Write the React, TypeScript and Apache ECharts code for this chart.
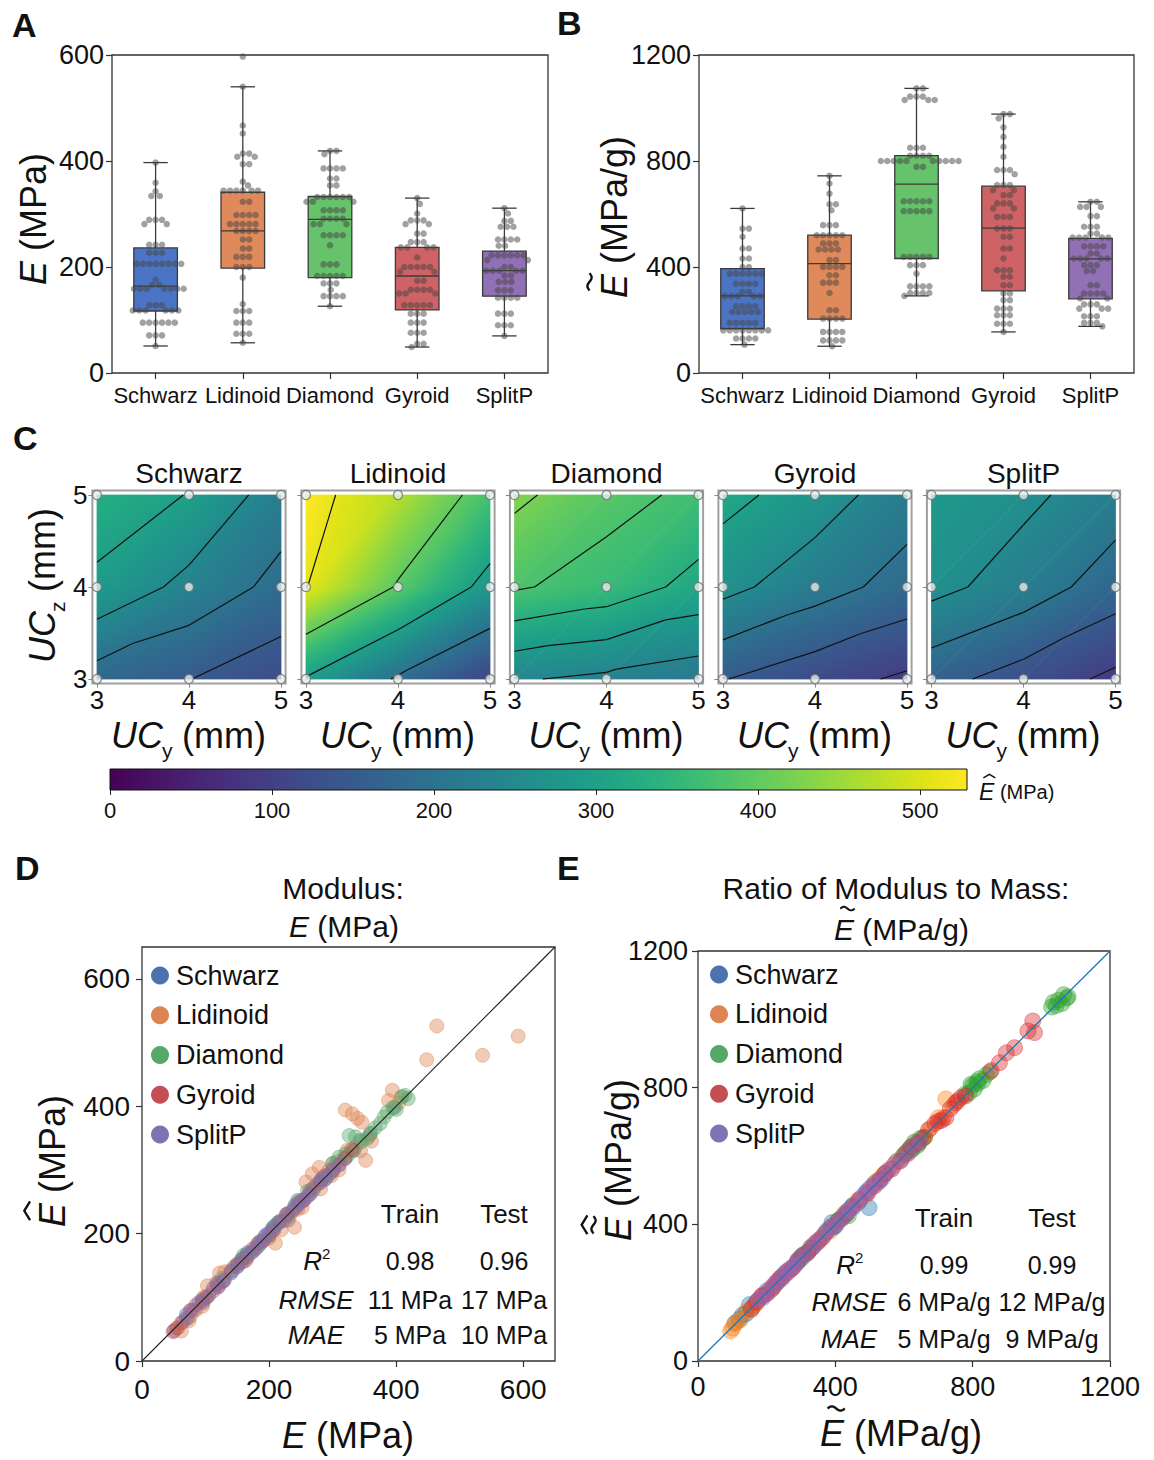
import React, { useEffect, useRef } from 'react';
import * as echarts from 'echarts';

const FONT = '"Liberation Sans", Arial, Helvetica, sans-serif';
const INK = '#111111';

const categories = ['Schwarz', 'Lidinoid', 'Diamond', 'Gyroid', 'SplitP'];
const boxColors = ['#4c74c4', '#e0895a', '#66c26b', '#cf6264', '#9270b5'];
const legendColors = ['#4c72b0', '#dd8452', '#55a868', '#c44e52', '#8172b3'];
const tabColors = ['#1f77b4', '#ff7f0e', '#2ca02c', '#d62728', '#9467bd'];

// Panel A: E (MPa) box statistics [min, Q1, median, Q3, max]
const boxStatsE = [
  [51, 117, 164, 236, 397],
  [57, 198, 268, 341, 540],
  [126, 180, 290, 333, 419],
  [49, 119, 183, 237, 330],
  [70, 145, 193, 230, 311],
];
// Panel B: E~ (MPa/g) box statistics
const boxStatsEt = [
  [107, 167, 291, 394, 621],
  [101, 203, 413, 520, 744],
  [291, 432, 713, 820, 1074],
  [155, 310, 547, 705, 977],
  [176, 280, 431, 508, 646],
];
const ticksA = [0, 200, 400, 600];
const ticksB = [0, 400, 800, 1200];
const ticksD = [0, 200, 400, 600];
const ticksE = [0, 400, 800, 1200];

// Panel A individual samples
const dotsE_Schwarz = [397, 359, 343, 334, 334, 289, 289, 289, 281, 281, 242, 242, 242, 227, 227, 227, 206, 206, 206, 206, 206, 206, 206, 206, 176, 166, 166, 159, 159, 159, 159, 159, 159, 159, 128, 128, 128, 118, 118, 118, 118, 118, 118, 95, 95, 95, 95, 95, 95, 71, 71, 71, 51];
const dotsE_Lidinoid = [597, 540, 467, 452, 414, 414, 408, 408, 394, 394, 361, 354, 344, 344, 344, 344, 344, 344, 323, 323, 298, 298, 298, 298, 281, 281, 281, 281, 281, 268, 268, 268, 268, 252, 252, 235, 235, 219, 219, 219, 200, 200, 200, 180, 130, 117, 117, 117, 95, 95, 95, 74, 74, 74, 57];
const dotsE_Diamond = [419, 419, 413, 386, 386, 386, 386, 367, 367, 354, 354, 332, 332, 332, 332, 332, 332, 323, 323, 323, 307, 307, 307, 307, 291, 291, 291, 291, 281, 281, 281, 260, 260, 260, 260, 241, 205, 205, 205, 183, 183, 183, 183, 183, 169, 169, 169, 157, 145, 145, 145, 145, 126];
const dotsE_Gyroid = [330, 319, 301, 288, 288, 288, 281, 281, 263, 263, 247, 247, 247, 237, 237, 237, 237, 218, 200, 200, 200, 200, 200, 191, 191, 174, 174, 157, 157, 157, 157, 150, 150, 150, 128, 128, 128, 128, 128, 112, 112, 112, 95, 95, 95, 76, 76, 76, 55, 55, 49];
const dotsE_SplitP = [311, 301, 287, 287, 276, 276, 276, 252, 252, 252, 252, 240, 240, 222, 222, 222, 222, 222, 222, 213, 213, 200, 200, 193, 193, 193, 193, 193, 184, 184, 172, 172, 172, 156, 156, 156, 142, 142, 142, 142, 112, 112, 112, 90, 90, 90, 70];

// Panel B individual samples
const dotsEt_Schwarz = [621, 545, 545, 514, 470, 470, 432, 432, 400, 400, 375, 375, 375, 375, 375, 375, 337, 337, 337, 337, 306, 306, 290, 290, 290, 290, 290, 252, 252, 252, 252, 230, 230, 230, 230, 230, 189, 189, 189, 189, 189, 161, 161, 161, 161, 161, 161, 161, 161, 130, 130, 130, 130, 107];
const dotsEt_Lidinoid = [744, 715, 677, 637, 637, 614, 558, 558, 558, 520, 520, 520, 520, 520, 489, 489, 489, 466, 466, 466, 466, 426, 426, 400, 400, 400, 400, 369, 369, 341, 341, 341, 302, 237, 237, 205, 205, 205, 205, 155, 155, 155, 155, 123, 123, 123, 123, 101];
const dotsEt_Diamond = [1074, 1074, 1043, 1043, 1043, 1030, 1030, 1030, 850, 850, 850, 820, 820, 820, 820, 800, 800, 800, 800, 800, 800, 800, 800, 800, 800, 778, 778, 648, 648, 648, 648, 648, 611, 611, 611, 611, 611, 438, 438, 438, 438, 438, 407, 407, 407, 375, 327, 327, 327, 327, 302, 302, 302, 302, 291];
const dotsEt_Gyroid = [977, 977, 961, 927, 891, 854, 816, 766, 766, 766, 750, 709, 709, 709, 690, 690, 671, 671, 640, 640, 640, 621, 621, 589, 589, 589, 545, 545, 545, 514, 514, 470, 470, 432, 388, 388, 388, 363, 363, 331, 331, 300, 300, 275, 275, 243, 243, 243, 218, 218, 218, 186, 186, 186, 155];
const dotsEt_SplitP = [646, 646, 627, 627, 627, 592, 592, 552, 552, 552, 526, 526, 511, 511, 511, 511, 511, 478, 478, 478, 478, 451, 451, 432, 432, 432, 432, 432, 407, 407, 407, 385, 385, 331, 331, 300, 300, 300, 300, 281, 281, 259, 259, 259, 243, 243, 243, 214, 214, 214, 189, 189, 189, 176];

// Panel C: predicted modulus at grid points, rows UCz = 5,4,3 ; columns UCy = 3,4,5
const ucTicks = [3, 4, 5];
const heatSchwarz = [[330, 298, 224], [289, 235, 185], [178, 151, 120]];
const heatLidinoid = [[529, 470, 370], [511, 394, 276], [295, 192, 107]];
const heatDiamond = [[430, 390, 365], [380, 357, 315], [244, 231, 215]];
const heatGyroid = [[316, 275, 222], [265, 221, 181], [152, 120, 92]];
const heatSplitP = [[282, 261, 224], [265, 227, 175], [167, 129, 89]];
const levelsSchwarz = [300, 250, 200, 150];
const levelsLidinoid = [510, 400, 300, 200];
const levelsDiamond = [420, 375, 330, 285, 240];
const levelsGyroid = [300, 250, 200, 150, 100];
const levelsSplitP = [250, 200, 150, 100];
const colorbarMax = 529;
const colorbarTicks = [0, 100, 200, 300, 400, 500];

// Panel D: [measured E, predicted E]
const predD_Schwarz = [[51, 48], [65, 62], [70, 73], [72, 67], [82, 80], [95, 97], [96, 91], [105, 103], [118, 121], [120, 116], [128, 126], [140, 138], [150, 148], [159, 161], [162, 157], [166, 170], [176, 173], [186, 184], [195, 198], [206, 205], [208, 212], [215, 217], [227, 230], [230, 221], [242, 240], [245, 252], [255, 253], [265, 268], [281, 283], [289, 286], [300, 298], [320, 318], [334, 331], [343, 346], [359, 356], [397, 398]];
const predD_Lidinoid = [[57, 52], [62, 47], [74, 63], [76, 70], [85, 80], [95, 86], [98, 101], [103, 118], [117, 123], [122, 138], [130, 140], [150, 152], [165, 160], [180, 178], [190, 188], [200, 193], [210, 185], [219, 206], [225, 222], [232, 226], [240, 210], [245, 238], [252, 241], [258, 281], [268, 294], [279, 304], [281, 270], [285, 288], [294, 299], [298, 291], [300, 310], [310, 300], [323, 331], [336, 336], [344, 330], [352, 315], [357, 352], [361, 345], [320, 394], [331, 388], [339, 381], [346, 375], [388, 409], [394, 425], [404, 405], [408, 414], [448, 473], [464, 526], [536, 480], [592, 510]];
const predD_Diamond = [[126, 130], [145, 148], [157, 160], [160, 166], [169, 168], [183, 180], [186, 188], [200, 196], [205, 208], [215, 218], [230, 228], [241, 245], [250, 252], [260, 266], [270, 268], [281, 283], [291, 290], [300, 310], [307, 313], [310, 320], [320, 325], [323, 322], [332, 330], [326, 354], [336, 352], [345, 344], [354, 349], [360, 358], [367, 366], [375, 373], [381, 383], [386, 391], [395, 398], [400, 395], [409, 415], [414, 417], [419, 412]];
const predD_Gyroid = [[49, 46], [55, 52], [62, 60], [76, 79], [85, 88], [95, 94], [102, 100], [112, 110], [120, 118], [128, 125], [140, 142], [150, 152], [157, 155], [165, 163], [174, 176], [182, 184], [191, 190], [200, 198], [208, 206], [218, 220], [228, 230], [237, 236], [247, 249], [255, 253], [263, 262], [270, 272], [281, 280], [288, 291], [301, 300], [310, 308], [319, 318], [330, 332]];
const predD_SplitP = [[70, 68], [78, 80], [90, 92], [100, 99], [112, 114], [120, 122], [130, 128], [142, 141], [150, 149], [156, 158], [165, 167], [172, 170], [178, 176], [184, 186], [190, 188], [193, 195], [200, 201], [206, 208], [213, 215], [222, 220], [230, 232], [240, 242], [245, 244], [252, 250], [260, 258], [265, 262], [276, 278], [283, 286], [287, 285], [295, 293], [301, 303], [311, 309]];

// Panel E: [measured E~, predicted E~]
const predE_Schwarz = [[107, 110], [120, 122], [130, 135], [140, 138], [150, 165], [161, 160], [175, 178], [189, 190], [200, 205], [215, 210], [230, 228], [240, 242], [252, 256], [270, 268], [290, 288], [306, 311], [320, 318], [337, 335], [350, 352], [375, 381], [390, 405], [400, 395], [420, 418], [432, 431], [450, 455], [470, 468], [490, 495], [514, 520], [498, 449], [530, 528], [545, 548], [580, 585], [621, 618]];
const predE_Lidinoid = [[95, 88], [101, 96], [110, 112], [123, 120], [140, 145], [155, 150], [170, 168], [185, 190], [205, 200], [220, 218], [237, 241], [260, 262], [280, 277], [302, 305], [320, 318], [341, 346], [355, 356], [369, 372], [385, 380], [400, 398], [426, 431], [450, 452], [466, 470], [489, 485], [505, 508], [520, 526], [540, 545], [558, 561], [575, 580], [595, 598], [614, 610], [637, 641], [660, 655], [677, 681], [700, 712], [715, 712], [722, 767], [744, 748]];
const predE_Diamond = [[291, 296], [302, 300], [310, 312], [327, 331], [375, 378], [395, 392], [407, 411], [420, 422], [438, 441], [438, 425], [600, 604], [611, 616], [620, 626], [625, 620], [630, 641], [640, 631], [645, 640], [648, 652], [660, 655], [778, 781], [790, 785], [795, 810], [800, 806], [805, 796], [812, 818], [815, 812], [820, 826], [830, 821], [840, 838], [850, 846], [1030, 1036], [1035, 1050], [1043, 1040], [1050, 1056], [1060, 1046], [1065, 1072], [1074, 1062], [1078, 1066]];
const predE_Gyroid = [[155, 152], [170, 172], [186, 191], [200, 198], [218, 215], [230, 232], [243, 246], [260, 258], [275, 272], [290, 292], [300, 305], [320, 318], [331, 330], [350, 348], [363, 361], [388, 393], [410, 412], [432, 430], [450, 452], [470, 473], [495, 492], [514, 512], [530, 532], [545, 549], [565, 562], [589, 585], [605, 608], [621, 626], [640, 637], [655, 652], [671, 676], [690, 695], [700, 702], [709, 704], [722, 712], [735, 738], [750, 755], [756, 761], [766, 771], [780, 776], [854, 850], [878, 873], [898, 902], [922, 917], [961, 966], [975, 995], [980, 961]];
const predE_SplitP = [[176, 179], [189, 185], [200, 198], [214, 216], [225, 228], [243, 240], [250, 248], [259, 263], [270, 272], [281, 279], [290, 292], [300, 303], [315, 313], [331, 335], [345, 347], [360, 362], [370, 372], [385, 389], [395, 393], [407, 405], [420, 418], [432, 436], [440, 442], [451, 448], [465, 462], [478, 481], [490, 492], [500, 505], [511, 515], [526, 523], [538, 536], [552, 556], [570, 572], [592, 589], [610, 606], [627, 631], [646, 644]];

const metricNames = ['R2', 'RMSE', 'MAE'];
const statsD_train = ['0.98', '11 MPa', '5 MPa'];
const statsD_test = ['0.96', '17 MPa', '10 MPa'];
const statsE_train = ['0.99', '6 MPa/g', '5 MPa/g'];
const statsE_test = ['0.99', '12 MPa/g', '9 MPa/g'];

// ---------- helpers ----------
const VIRIDIS = ['#440154', '#471365', '#482475', '#463480', '#414487', '#3b528b', '#355f8d', '#2f6c8e', '#2a788e', '#25848e', '#21918c', '#1e9c89', '#22a884', '#2fb47c', '#44bf70', '#5ec962', '#7ad151', '#9bd93c', '#bddf26', '#dfe318', '#fde725'];
function hexRgb(h: string) {
  return [parseInt(h.slice(1, 3), 16), parseInt(h.slice(3, 5), 16), parseInt(h.slice(5, 7), 16)];
}
function viridis(t: number) {
  const tt = Math.max(0, Math.min(1, t));
  const p = tt * (VIRIDIS.length - 1);
  const i = Math.min(Math.floor(p), VIRIDIS.length - 2);
  const f = p - i;
  const a = hexRgb(VIRIDIS[i]);
  const b = hexRgb(VIRIDIS[i + 1]);
  const c = a.map((v, k) => Math.round(v + (b[k] - v) * f));
  return `rgb(${c[0]},${c[1]},${c[2]})`;
}

// beeswarm layout: horizontal offsets so that dots of diameter d do not overlap
function swarm(groups: number[][], pxPerUnit: number, bandPx: number, d: number) {
  const out: number[][] = [];
  groups.forEach((vals, gi) => {
    const placed: number[][] = [];
    vals.slice().sort((a, b) => b - a).forEach((v) => {
      const y = v * pxPerUnit;
      const cands: number[] = [0];
      for (const p of placed) {
        const dy = Math.abs(p[1] - y);
        if (dy < d) {
          const dx = Math.sqrt(d * d - dy * dy) + 0.01;
          cands.push(p[0] + dx, p[0] - dx);
        }
      }
      cands.sort((a, b) => Math.abs(a) - Math.abs(b));
      let off = 0;
      for (const o of cands) {
        let ok = true;
        for (const p of placed) {
          const dx = p[0] - o;
          const dy = p[1] - y;
          if (dx * dx + dy * dy < d * d - 0.02) { ok = false; break; }
        }
        if (ok) { off = o; break; }
      }
      placed.push([off, y]);
      out.push([gi + off / bandPx, v]);
    });
  });
  return out;
}

function T(x: number, y: number, text: string, size: number, o: any = {}) {
  const align = o.align || 'left';
  return {
    type: 'text', x, y, silent: true,
    style: {
      text, fontSize: size, fontFamily: FONT,
      fontStyle: o.italic ? 'italic' : 'normal',
      fontWeight: o.bold ? 'bold' : 'normal',
      fill: o.color || INK,
      align, verticalAlign: 'middle', textAlign: align, textVerticalAlign: 'middle',
    },
  };
}

function accentE(x: number, y: number, size: number, rot: number, rest: string, restSize: number, accents: string[]) {
  const ch: any[] = [T(0, 0, 'E', size, { italic: true }), T(0.667 * size + 0.278 * restSize, 0, rest, restSize)];
  let lv = -0.68 * size;
  const cx = 0.45 * size;
  accents.forEach((a) => {
    if (a === 'tilde') {
      const pts: number[][] = [];
      for (let k = 0; k <= 14; k++) {
        const u = k / 14;
        pts.push([cx - 0.24 * size + u * 0.48 * size, lv - Math.sin(u * 2 * Math.PI) * 0.06 * size]);
      }
      ch.push({ type: 'polyline', shape: { points: pts }, style: { stroke: INK, lineWidth: 0.065 * size, fill: 'none' } });
    } else {
      ch.push({ type: 'polyline', shape: { points: [[cx - 0.26 * size, lv + 0.07 * size], [cx, lv - 0.09 * size], [cx + 0.26 * size, lv + 0.07 * size]] }, style: { stroke: INK, lineWidth: 0.065 * size, fill: 'none' } });
    }
    lv -= 0.24 * size;
  });
  return { type: 'group', x, y, rotation: rot, silent: true, children: ch };
}

function ucLabel(x: number, y: number, sub: string, rot: number) {
  return {
    type: 'group', x, y, rotation: rot, silent: true,
    children: [T(0, 0, 'UC', 36, { italic: true }), T(51, 15, sub, 21), T(71, 0, '(mm)', 36)],
  };
}

function table(cols: number[], rows: number[], train: string[], test: string[]) {
  const els: any[] = [T(cols[1], rows[0], 'Train', 26, { align: 'center' }), T(cols[2], rows[0], 'Test', 26, { align: 'center' })];
  metricNames.forEach((m, i) => {
    const y = rows[i + 1];
    if (m === 'R2') {
      els.push(T(cols[0] + 6, y, 'R', 26, { italic: true, align: 'right' }));
      els.push(T(cols[0] + 6, y - 8, '2', 15));
    } else {
      els.push(T(cols[0], y, m, 26, { italic: true, align: 'center' }));
    }
    els.push(T(cols[1], y, train[i], 25, { align: 'center' }));
    els.push(T(cols[2], y, test[i], 25, { align: 'center' }));
  });
  return els;
}

function boxRender(params: any, api: any) {
  const i = api.value(0);
  const pts = [1, 2, 3, 4, 5].map((d) => api.coord([i, api.value(d)]));
  const cx = pts[0][0];
  const yMin = pts[0][1], yQ1 = pts[1][1], yMed = pts[2][1], yQ3 = pts[3][1], yMax = pts[4][1];
  const band = api.size([1, 0])[0];
  const bw = band * 0.5;
  const cw = band * 0.28;
  const stroke = '#3b3b3b';
  const ls = { stroke, lineWidth: 1.3 };
  return {
    type: 'group',
    children: [
      { type: 'line', shape: { x1: cx, y1: yQ3, x2: cx, y2: yMax }, style: ls },
      { type: 'line', shape: { x1: cx, y1: yQ1, x2: cx, y2: yMin }, style: ls },
      { type: 'line', shape: { x1: cx - cw / 2, y1: yMax, x2: cx + cw / 2, y2: yMax }, style: ls },
      { type: 'line', shape: { x1: cx - cw / 2, y1: yMin, x2: cx + cw / 2, y2: yMin }, style: ls },
      { type: 'rect', shape: { x: cx - bw / 2, y: yQ3, width: bw, height: yQ1 - yQ3 }, style: { fill: boxColors[i], stroke, lineWidth: 1.3 } },
      { type: 'line', shape: { x1: cx - bw / 2, y1: yMed, x2: cx + bw / 2, y2: yMed }, style: ls },
    ],
  };
}

function triCorners(x: number, y: number, t: number) {
  return t === 0 ? [[x, y], [x + 1, y], [x + 1, y + 1]] : [[x, y], [x + 1, y + 1], [x, y + 1]];
}

function fieldRender(vals: number[][]) {
  return (params: any, api: any) => {
    const corners = triCorners(api.value(0), api.value(1), api.value(2));
    const P = corners.map((p) => api.coord(p));
    const V = corners.map(([px, py]) => vals[5 - py][px - 3]);
    const e1x = P[1][0] - P[0][0], e1y = P[1][1] - P[0][1];
    const e2x = P[2][0] - P[0][0], e2y = P[2][1] - P[0][1];
    const d1 = V[1] - V[0], d2 = V[2] - V[0];
    const det = e1x * e2y - e1y * e2x;
    const gx = (d1 * e2y - d2 * e1y) / det;
    const gy = (d2 * e1x - d1 * e2x) / det;
    const g2 = gx * gx + gy * gy;
    const vmin = Math.min(...V), vmax = Math.max(...V);
    let fill: any;
    if (g2 < 1e-12 || vmax - vmin < 1e-6) {
      fill = viridis(V[0] / colorbarMax);
    } else {
      const sx = P[0][0] + (gx * (vmin - V[0])) / g2, sy = P[0][1] + (gy * (vmin - V[0])) / g2;
      const ex = P[0][0] + (gx * (vmax - V[0])) / g2, ey = P[0][1] + (gy * (vmax - V[0])) / g2;
      const stops: any[] = [];
      for (let s = 0; s <= 12; s++) {
        const f = s / 12;
        stops.push({ offset: f, color: viridis((vmin + (vmax - vmin) * f) / colorbarMax) });
      }
      fill = new echarts.graphic.LinearGradient(sx, sy, ex, ey, stops, true);
    }
    return { type: 'polygon', shape: { points: P }, style: { fill, stroke: fill, lineWidth: 0.8 } };
  };
}

function contourRender(vals: number[][], levels: number[]) {
  return (params: any, api: any) => {
    const corners = triCorners(api.value(0), api.value(1), api.value(2));
    const P = corners.map((p) => api.coord(p));
    const V = corners.map(([px, py]) => vals[5 - py][px - 3]);
    const children: any[] = [];
    levels.forEach((L) => {
      const cr: number[][] = [];
      [[0, 1], [1, 2], [2, 0]].forEach(([a, b]) => {
        const va = V[a] - L, vb = V[b] - L;
        if ((va < 0 && vb > 0) || (va > 0 && vb < 0)) {
          const t = va / (va - vb);
          cr.push([P[a][0] + t * (P[b][0] - P[a][0]), P[a][1] + t * (P[b][1] - P[a][1])]);
        }
      });
      if (cr.length === 2) {
        children.push({ type: 'line', shape: { x1: cr[0][0], y1: cr[0][1], x2: cr[1][0], y2: cr[1][1] }, style: { stroke: '#111', lineWidth: 1.2 } });
      }
    });
    return { type: 'group', children };
  };
}

function colorbarRender(params: any, api: any) {
  const p0 = api.coord([api.value(0), 1]);
  const p1 = api.coord([api.value(1), 0]);
  const stops = VIRIDIS.map((c, i) => ({ offset: i / (VIRIDIS.length - 1), color: c }));
  return {
    type: 'rect',
    shape: { x: p0[0], y: p0[1], width: p1[0] - p0[0], height: p1[1] - p0[1] },
    style: { fill: new echarts.graphic.LinearGradient(0, 0, 1, 0, stops), stroke: '#111', lineWidth: 1 },
  };
}

// ---------- option ----------
function buildOption() {
  const heatValues = [heatSchwarz, heatLidinoid, heatDiamond, heatGyroid, heatSplitP];
  const heatLevels = [levelsSchwarz, levelsLidinoid, levelsDiamond, levelsGyroid, levelsSplitP];
  const heatX0 = [97, 306, 514.5, 723, 931.5];
  const heatTop = 495;
  const heatPx = 184;
  const pad = 0.05;
  const padPx = (heatPx / 2) * pad;

  const frame = { show: true, borderColor: '#333', borderWidth: 1.3, outerBoundsMode: 'none', containLabel: false };
  const grids: any[] = [
    { left: 112, top: 55, width: 436, height: 318, ...frame },
    { left: 699, top: 55, width: 435, height: 318, ...frame },
    ...heatX0.map((x0) => ({
      left: x0 - padPx, top: heatTop - padPx, width: heatPx + 2 * padPx, height: heatPx + 2 * padPx,
      show: true, borderColor: '#a0a0a0', borderWidth: 2, backgroundColor: '#ffffff', outerBoundsMode: 'none', containLabel: false,
    })),
    { left: 110, top: 769, width: 857, height: 21, outerBoundsMode: 'none', containLabel: false },
    { left: 142, top: 947, width: 413, height: 414, ...frame },
    { left: 698, top: 951, width: 412, height: 410, ...frame },
  ];

  const tick = (vals: number[]) => ({ show: true, length: 6, lineStyle: { color: '#333', width: 1.2 }, customValues: vals });
  const fmt = (v: number) => String(Math.round(v));
  const lab = (size: number, margin: number, vals?: number[]) => ({ fontSize: size, fontFamily: FONT, color: INK, margin, formatter: fmt, ...(vals ? { customValues: vals } : {}) });
  const noLine = { show: false, onZero: false };
  const noSplit = { show: false };
  const hidden = { show: false, axisLine: noLine, axisTick: { show: false }, axisLabel: { show: false }, splitLine: noSplit };

  const xAxis: any[] = [
    { gridIndex: 0, type: 'category', data: categories, axisLine: noLine, axisTick: { show: true, length: 6, lineStyle: { color: '#333', width: 1.2 }, alignWithLabel: true },
      axisLabel: { fontSize: 22, fontFamily: FONT, color: INK, margin: 11, interval: 0 }, splitLine: noSplit },
    { gridIndex: 0, type: 'value', min: -0.5, max: 4.5, ...hidden },
    { gridIndex: 1, type: 'category', data: categories, axisLine: noLine, axisTick: { show: true, length: 6, lineStyle: { color: '#333', width: 1.2 }, alignWithLabel: true },
      axisLabel: { fontSize: 22, fontFamily: FONT, color: INK, margin: 11, interval: 0 }, splitLine: noSplit },
    { gridIndex: 1, type: 'value', min: -0.5, max: 4.5, ...hidden },
    ...heatX0.map((_, i) => ({
      gridIndex: 2 + i, type: 'value', min: 3 - pad, max: 5 + pad, axisLine: noLine, splitLine: noSplit,
      axisTick: { show: true, length: 4, lineStyle: { color: '#888' }, customValues: ucTicks },
      axisLabel: lab(26, 3, ucTicks),
    })),
    { gridIndex: 7, type: 'value', min: 0, max: colorbarMax, axisLine: noLine, splitLine: noSplit,
      axisTick: { show: true, length: 5, lineStyle: { color: '#222' }, customValues: colorbarTicks },
      axisLabel: lab(22, 9, colorbarTicks) },
    { gridIndex: 8, type: 'value', min: 0, max: 650, axisLine: noLine, axisTick: tick(ticksD), axisLabel: lab(28, 14, ticksD), splitLine: noSplit },
    { gridIndex: 9, type: 'value', min: 0, max: 1200, axisLine: noLine, axisTick: tick(ticksE), axisLabel: lab(27, 12, ticksE), splitLine: noSplit },
  ];
  const yAxis: any[] = [
    { gridIndex: 0, type: 'value', min: 0, max: 600, axisLine: noLine, axisTick: tick(ticksA), axisLabel: lab(27, 8, ticksA), splitLine: noSplit },
    { gridIndex: 1, type: 'value', min: 0, max: 1200, axisLine: noLine, axisTick: tick(ticksB), axisLabel: lab(27, 8, ticksB), splitLine: noSplit },
    ...heatX0.map((_, i) => ({
      gridIndex: 2 + i, type: 'value', min: 3 - pad, max: 5 + pad, axisLine: noLine, splitLine: noSplit,
      axisTick: { show: true, length: 4, lineStyle: { color: '#888' }, customValues: ucTicks },
      axisLabel: { ...lab(26, 5, ucTicks), show: i === 0 },
    })),
    { gridIndex: 7, type: 'value', min: 0, max: 1, ...hidden },
    { gridIndex: 8, type: 'value', min: 0, max: 650, axisLine: noLine, axisTick: tick(ticksD), axisLabel: lab(28, 12, ticksD), splitLine: noSplit },
    { gridIndex: 9, type: 'value', min: 0, max: 1200, axisLine: noLine, axisTick: tick(ticksE), axisLabel: lab(27, 10, ticksE), splitLine: noSplit },
  ];

  const dotStyle = { color: '#444', opacity: 0.5 };
  const series: any[] = [
    { type: 'custom', xAxisIndex: 0, yAxisIndex: 0, silent: true, renderItem: boxRender, data: boxStatsE.map((s, i) => [i, ...s]) },
    { type: 'scatter', xAxisIndex: 1, yAxisIndex: 0, silent: true, clip: false, symbolSize: 6.5, itemStyle: dotStyle,
      data: swarm([dotsE_Schwarz, dotsE_Lidinoid, dotsE_Diamond, dotsE_Gyroid, dotsE_SplitP], 318 / 600, 436 / 5, 6.4) },
    { type: 'custom', xAxisIndex: 2, yAxisIndex: 1, silent: true, renderItem: boxRender, data: boxStatsEt.map((s, i) => [i, ...s]) },
    { type: 'scatter', xAxisIndex: 3, yAxisIndex: 1, silent: true, clip: false, symbolSize: 6.5, itemStyle: dotStyle,
      data: swarm([dotsEt_Schwarz, dotsEt_Lidinoid, dotsEt_Diamond, dotsEt_Gyroid, dotsEt_SplitP], 318 / 1200, 435 / 5, 6.4) },
  ];

  const tris: number[][] = [];
  [3, 4].forEach((x) => [3, 4].forEach((y) => [0, 1].forEach((t) => tris.push([x, y, t]))));
  const markers: number[][] = [];
  ucTicks.forEach((x) => ucTicks.forEach((y) => markers.push([x, y])));

  heatValues.forEach((vals, i) => {
    series.push({ type: 'custom', xAxisIndex: 4 + i, yAxisIndex: 2 + i, silent: true, renderItem: fieldRender(vals), data: tris });
    series.push({ type: 'custom', xAxisIndex: 4 + i, yAxisIndex: 2 + i, silent: true, renderItem: contourRender(vals, heatLevels[i]), data: tris });
    series.push({ type: 'scatter', xAxisIndex: 4 + i, yAxisIndex: 2 + i, silent: true, clip: false, symbolSize: 9,
      itemStyle: { color: '#e3ebeb', borderColor: '#6e6e6e', borderWidth: 1.2 }, data: markers });
  });

  series.push({ type: 'custom', xAxisIndex: 9, yAxisIndex: 7, silent: true, renderItem: colorbarRender, data: [[0, colorbarMax]] });

  const predD = [predD_Schwarz, predD_Lidinoid, predD_Diamond, predD_Gyroid, predD_SplitP];
  const predE = [predE_Schwarz, predE_Lidinoid, predE_Diamond, predE_Gyroid, predE_SplitP];

  series.push({ type: 'line', xAxisIndex: 10, yAxisIndex: 8, silent: true, showSymbol: false, symbol: 'none',
    lineStyle: { color: '#222', width: 1.1 }, data: [[0, 0], [650, 650]] });
  predD.forEach((pts, i) => series.push({
    type: 'scatter', name: categories[i], xAxisIndex: 10, yAxisIndex: 8, silent: true, symbolSize: 14,
    itemStyle: { color: legendColors[i], opacity: 0.42, borderColor: legendColors[i], borderWidth: 1 }, data: pts,
  }));
  series.push({ type: 'line', xAxisIndex: 11, yAxisIndex: 9, silent: true, showSymbol: false, symbol: 'none',
    lineStyle: { color: '#1f77b4', width: 1.3 }, data: [[0, 0], [1200, 1200]] });
  predE.forEach((pts, i) => series.push({
    type: 'scatter', name: categories[i], xAxisIndex: 11, yAxisIndex: 9, silent: true, symbolSize: 16,
    itemStyle: { color: tabColors[i], opacity: 0.4, borderColor: tabColors[i], borderWidth: 1 }, data: pts,
  }));

  const legendBase = (left: number, top: number) => ({
    orient: 'vertical', left, top, padding: 0, itemWidth: 22, itemHeight: 18, itemGap: 12.75, icon: 'circle',
    selectedMode: false,
    textStyle: { fontSize: 27, fontFamily: FONT, color: INK, lineHeight: 24 },
    data: categories.map((n, i) => ({ name: n, itemStyle: { color: legendColors[i], opacity: 1, borderWidth: 0 } })),
  });

  const PI2 = Math.PI / 2;
  const graphic: any[] = [
    T(12, 25, 'A', 34, { bold: true }),
    T(557, 23, 'B', 34, { bold: true }),
    T(13, 438, 'C', 34, { bold: true }),
    T(15, 868, 'D', 34, { bold: true }),
    T(557, 868, 'E', 34, { bold: true }),
    accentE(33, 285, 36, PI2, '(MPa)', 36, []),
    accentE(614, 298, 36, PI2, '(MPa/g)', 36, ['tilde']),
    ...categories.map((n, i) => T(heatX0[i] + heatPx / 2, 473, n, 28, { align: 'center' })),
    ...heatX0.map((x0) => ucLabel(x0 + heatPx / 2 - 78, 735, 'y', 0)),
    ucLabel(42, 663, 'z', PI2),
    accentE(979, 792, 23, 0, '(MPa)', 20, ['hat']),
    T(343, 888, 'Modulus:', 30, { align: 'center' }),
    accentE(289, 926, 30, 0, '(MPa)', 30, []),
    accentE(52, 1227, 36, PI2, '(MPa)', 36, ['hat']),
    accentE(282, 1435, 36, 0, '(MPa)', 36, []),
    ...table([316, 410, 504], [1214, 1261, 1300, 1335], statsD_train, statsD_test),
    T(896, 888, 'Ratio of Modulus to Mass:', 30, { align: 'center' }),
    accentE(834, 929, 30, 0, '(MPa/g)', 30, ['tilde']),
    accentE(618, 1241, 36, PI2, '(MPa/g)', 36, ['tilde', 'hat']),
    accentE(820, 1433, 36, 0, '(MPa/g)', 36, ['tilde']),
    ...table([849, 944, 1052], [1218, 1265, 1302, 1339], statsE_train, statsE_test),
  ];

  return {
    animation: false,
    backgroundColor: '#ffffff',
    textStyle: { fontFamily: FONT },
    grid: grids,
    xAxis,
    yAxis,
    legend: [legendBase(151, 962), legendBase(710, 961)],
    series,
    graphic,
  };
}

export default function App() {
  const ref = useRef<HTMLDivElement>(null);
  useEffect(() => {
    if (!ref.current) return;
    const chart = echarts.init(ref.current, null, { renderer: 'svg' });
    chart.setOption(buildOption() as any);
    return () => chart.dispose();
  }, []);
  return <div ref={ref} style={{ position: 'absolute', left: 0, top: 0, width: 1154, height: 1460, background: '#fff' }} />;
}
